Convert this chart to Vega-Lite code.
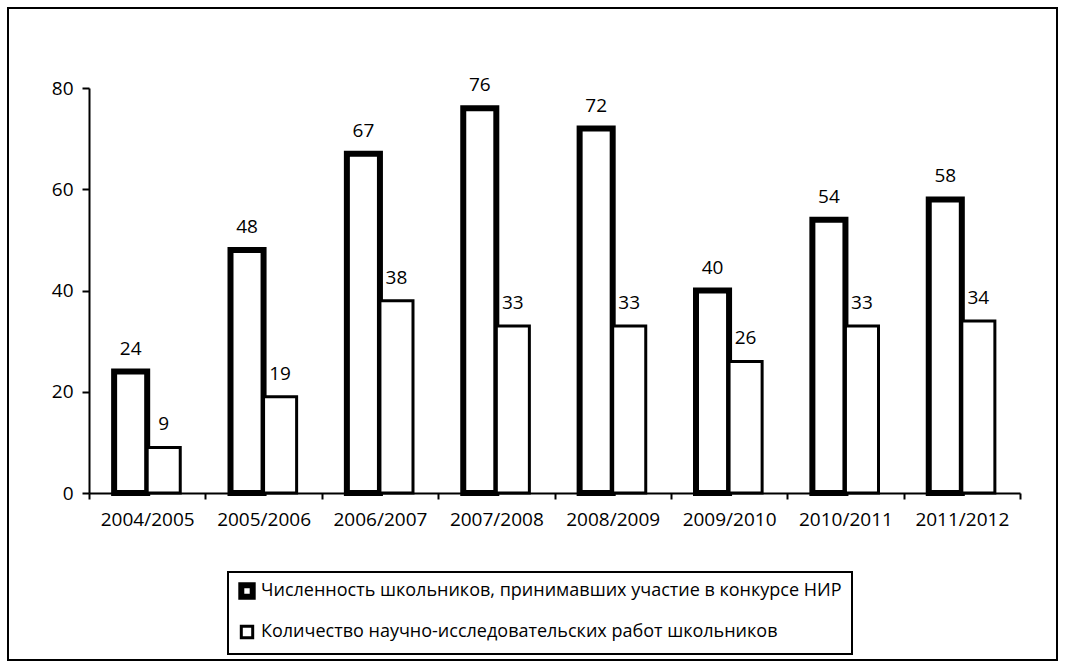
{
  "$schema": "https://vega.github.io/schema/vega-lite/v6.json",
  "width": 1049,
  "height": 652,
  "padding": {"left": 8, "top": 8, "right": 8, "bottom": 8},
  "autosize": {"type": "none"},
  "background": "white",
  "config": {
    "view": {"stroke": "black", "strokeWidth": 2},
    "font": "Open Sans",
    "text": {"font": "Open Sans"},
    "legend": {"strokeColor": "black", "strokeWidth": 2, "padding": 10, "rowPadding": 11, "labelFontSize": 18, "labelColor": "black", "labelOffset": 5, "labelLimit": 900, "symbolType": "square", "symbolSize": 130}
  },
  "data": {
    "values": [
      {"year": "2004/2005", "series": "Численность школьников, принимавших участие в конкурсе НИР", "value": 24},
      {"year": "2004/2005", "series": "Количество научно-исследовательских работ школьников", "value": 9},
      {"year": "2005/2006", "series": "Численность школьников, принимавших участие в конкурсе НИР", "value": 48},
      {"year": "2005/2006", "series": "Количество научно-исследовательских работ школьников", "value": 19},
      {"year": "2006/2007", "series": "Численность школьников, принимавших участие в конкурсе НИР", "value": 67},
      {"year": "2006/2007", "series": "Количество научно-исследовательских работ школьников", "value": 38},
      {"year": "2007/2008", "series": "Численность школьников, принимавших участие в конкурсе НИР", "value": 76},
      {"year": "2007/2008", "series": "Количество научно-исследовательских работ школьников", "value": 33},
      {"year": "2008/2009", "series": "Численность школьников, принимавших участие в конкурсе НИР", "value": 72},
      {"year": "2008/2009", "series": "Количество научно-исследовательских работ школьников", "value": 33},
      {"year": "2009/2010", "series": "Численность школьников, принимавших участие в конкурсе НИР", "value": 40},
      {"year": "2009/2010", "series": "Количество научно-исследовательских работ школьников", "value": 26},
      {"year": "2010/2011", "series": "Численность школьников, принимавших участие в конкурсе НИР", "value": 54},
      {"year": "2010/2011", "series": "Количество научно-исследовательских работ школьников", "value": 33},
      {"year": "2011/2012", "series": "Численность школьников, принимавших участие в конкурсе НИР", "value": 58},
      {"year": "2011/2012", "series": "Количество научно-исследовательских работ школьников", "value": 34}
    ]
  },
  "encoding": {
    "x": {
      "field": "year",
      "type": "nominal",
      "sort": null,
      "scale": {"range": [81, 1012], "paddingInner": 0, "paddingOuter": 0},
      "axis": {
        "title": null,
        "orient": "bottom",
        "offset": -167,
        "tickBand": "extent",
        "tickSize": 6,
        "tickWidth": 2,
        "tickColor": "black",
        "domainColor": "black",
        "domainWidth": 2,
        "labelAngle": 0,
        "labelFontSize": 19,
        "labelColor": "black",
        "labelPadding": 11,
        "grid": false
      }
    },
    "xOffset": {
      "field": "series",
      "type": "nominal",
      "sort": ["Численность школьников, принимавших участие в конкурсе НИР", "Количество научно-исследовательских работ школьников"],
      "scale": {"paddingInner": 0, "paddingOuter": 0.76}
    },
    "y": {
      "field": "value",
      "type": "quantitative",
      "scale": {"domain": [0, 80], "range": [485, 80], "nice": false, "zero": true},
      "axis": {
        "title": null,
        "offset": -81,
        "values": [0, 20, 40, 60, 80],
        "tickSize": 7,
        "tickWidth": 2,
        "tickColor": "black",
        "domainColor": "black",
        "domainWidth": 2,
        "labelFontSize": 19,
        "labelColor": "black",
        "labelPadding": 9,
        "grid": false
      }
    }
  },
  "layer": [
    {
      "mark": {"type": "bar"},
      "encoding": {
        "fill": {
          "field": "series",
          "type": "nominal",
          "scale": {"domain": ["Численность школьников, принимавших участие в конкурсе НИР", "Количество научно-исследовательских работ школьников"], "range": ["white", "white"]},
          "legend": {"title": null, "orient": "none", "legendX": 220, "legendY": 564}
        },
        "stroke": {
          "field": "series",
          "type": "nominal",
          "scale": {"domain": ["Численность школьников, принимавших участие в конкурсе НИР", "Количество научно-исследовательских работ школьников"], "range": ["black", "black"]},
          "legend": {"title": null, "orient": "none", "legendX": 220, "legendY": 564}
        },
        "strokeWidth": {
          "field": "series",
          "type": "nominal",
          "scale": {"domain": ["Численность школьников, принимавших участие в конкурсе НИР", "Количество научно-исследовательских работ школьников"], "range": [6, 3]},
          "legend": {"title": null, "orient": "none", "legendX": 220, "legendY": 564}
        }
      }
    },
    {
      "mark": {"type": "text", "baseline": "middle", "align": "center", "dy": -23, "fontSize": 19, "fill": "black"},
      "encoding": {
        "text": {"field": "value", "type": "quantitative"}
      }
    }
  ]
}
